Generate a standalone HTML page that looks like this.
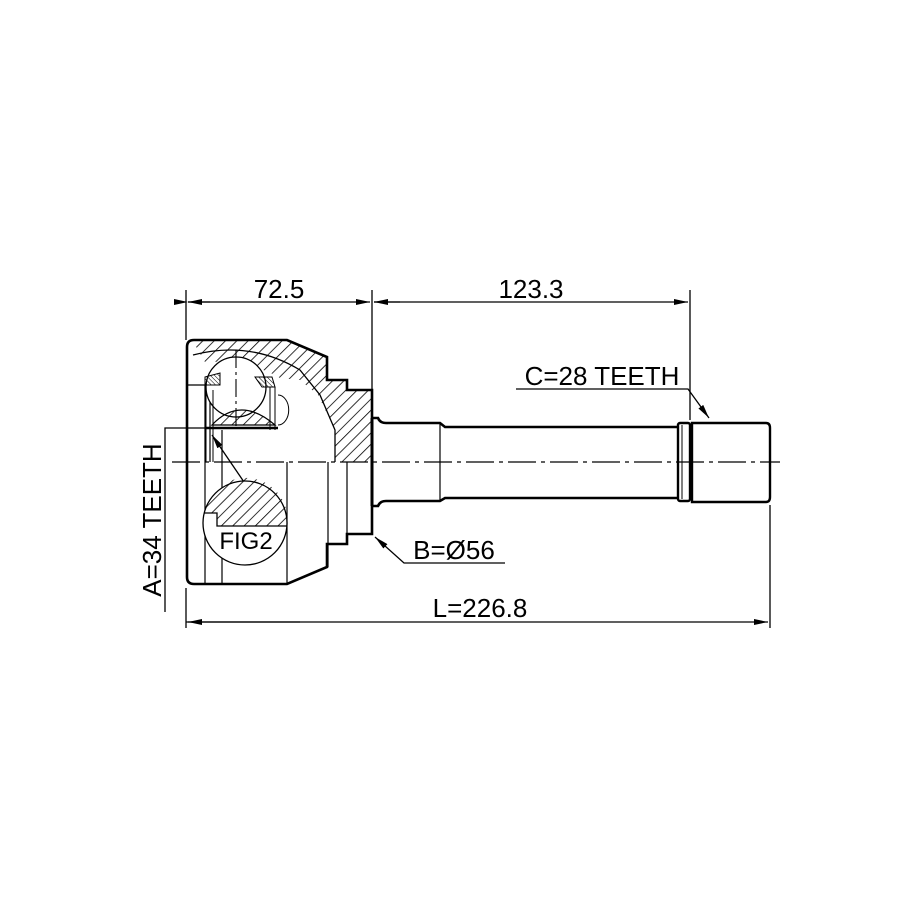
<!DOCTYPE html>
<html><head><style>html,body{margin:0;padding:0;background:#fff}svg{display:block}</style></head>
<body>
<svg width="915" height="915" viewBox="0 0 915 915" xmlns="http://www.w3.org/2000/svg" font-family="Liberation Sans, sans-serif">
<defs>
<pattern id="h" patternUnits="userSpaceOnUse" width="8" height="8" patternTransform="rotate(45)">
<line x1="0" y1="0" x2="0" y2="8" stroke="#000" stroke-width="1.6"/></pattern>
<pattern id="h2" patternUnits="userSpaceOnUse" width="3" height="3" patternTransform="rotate(-45)">
<line x1="0" y1="0" x2="0" y2="3" stroke="#000" stroke-width="1"/></pattern>
<marker id="a" markerWidth="14" markerHeight="6" refX="14" refY="3" orient="auto" markerUnits="userSpaceOnUse"><path d="M0,0 L14,3 L0,6z" fill="#000"/></marker>
</defs>
<g fill="none" stroke="#000">
<line x1="186" y1="290" x2="186" y2="340" stroke-width="1.3"/>
<line x1="372" y1="290" x2="372" y2="390" stroke-width="1.3"/>
<line x1="690" y1="290" x2="690" y2="420" stroke-width="1.3"/>
<line x1="188" y1="302" x2="370" y2="302" stroke-width="1.3" marker-end="url(#a)" marker-start="url(#a)"/>
<line x1="374" y1="302" x2="688" y2="302" stroke-width="1.3" marker-end="url(#a)"/>
<path d="M400,302 L374,302" marker-end="url(#a)" stroke-width="1.3"/>
<path d="M210,302 L188,302" marker-end="url(#a)" stroke-width="1.3"/>
<line x1="186" y1="588" x2="186" y2="628" stroke-width="1.3"/>
<line x1="770" y1="505" x2="770" y2="628" stroke-width="1.3"/>
<path d="M186,622 L768,622" marker-end="url(#a)" stroke-width="1.3"/>
<path d="M300,622 L188,622" marker-end="url(#a)" stroke-width="1.3"/>
<polyline points="210,428 165,428 165,612" stroke-width="1.3"/>
<polyline points="516,389 688,389 709,418" stroke-width="1.3" marker-end="url(#a)"/>
<polyline points="505,563 404,563 375,537" stroke-width="1.3" marker-end="url(#a)"/>
<path d="M244,482 L212,435" stroke-width="1.3" marker-end="url(#a)"/>
<path d="M192,340 L287,340 L327,357 L327,380 L347,380 L347,390 L372,390 L372,462 L335,462 L335,430 L318,395 L300,380 L280,378 Q250,360 205,362 Z" fill="url(#h)" stroke="none"/>
<path d="M194,340 L287,340 L327,357 L327,380 L347,380 L347,390 L372,390 L372,534 L347,534 L347,544 L327,544 L327,567 L287,584 L194,584 Q187,584 187,577 L187,347 Q187,340 194,340 Z" stroke-width="2.6"/>
<line x1="372" y1="418" x2="372" y2="506" stroke-width="3"/>
<path d="M186,385 L205,385 M205,385 L205,584 M210,385 L210,462 M222,430 L222,584 M287,462 L287,584 M328,462 L328,567 M347,462 L347,534" stroke-width="1.2"/>
<path d="M193,355 Q250,340 300,370 L320,395 L335,430 L335,462" stroke-width="1.3"/>
<circle cx="236" cy="387" r="30" fill="#fff" stroke-width="1.3"/>
<path d="M212,425 Q240,395 275,425 Z" fill="url(#h)" stroke-width="1.2"/>
<path d="M205,377 L220,373 L220,385 L205,385Z M255,377 L272,377 L275,387 L262,387Z" fill="url(#h2)" stroke-width="1"/>
<path d="M206,386 L206,462 M213,390 L213,462 M275,387 L275,430 M270,387 L270,430" stroke-width="1"/>
<path d="M206,428 L278,428" stroke-width="2.5"/>
<path d="M278,395 A10,14 0 0 1 278,425" stroke-width="1"/>
<circle cx="245" cy="523" r="42" fill="#fff" stroke-width="1.3"/>
<path d="M204,513 A42,42 0 0 1 287,527 L287,526 L217,526 L217,513Z" fill="url(#h)" stroke="none"/>
<polyline points="204,513 217,513 217,526 287,526" stroke-width="1.3"/>
<path d="M372,418 L378,418 Q380,423 386,423 L440,423 L445,427 L678,427" stroke-width="2.6"/>
<path d="M372,506 L378,506 Q380,501 386,501 L440,501 L445,498 L678,498" stroke-width="2.6"/>
<line x1="440" y1="423" x2="440" y2="501" stroke-width="1.2"/>
<rect x="678" y="423" width="12" height="78" rx="2" stroke-width="2.4"/>
<line x1="682" y1="425" x2="682" y2="499" stroke-width="1"/>
<path d="M692,423 L766,423 Q770,423 770,428 L770,497 Q770,502 766,502 L692,502 Z" stroke-width="2.4"/>
<path d="M172,462 L780,462" stroke-width="1.2" stroke-dasharray="28,5,4,5"/>
<path d="M236,350 L236,430" stroke-width="1.1" stroke-dasharray="18,4,3,4"/>
</g>
<g fill="#000" font-size="26">
<text x="279" y="298" text-anchor="middle">72.5</text>
<text x="531" y="298" text-anchor="middle">123.3</text>
<text x="602" y="385" text-anchor="middle">C=28 TEETH</text>
<text x="454" y="559" text-anchor="middle">B=Ø56</text>
<text x="480" y="617" text-anchor="middle">L=226.8</text>
<text x="246" y="549" text-anchor="middle" font-size="24">FIG2</text>
<text transform="translate(161,520) rotate(-90)" text-anchor="middle">A=34 TEETH</text>
</g>
</svg>
</body></html>
